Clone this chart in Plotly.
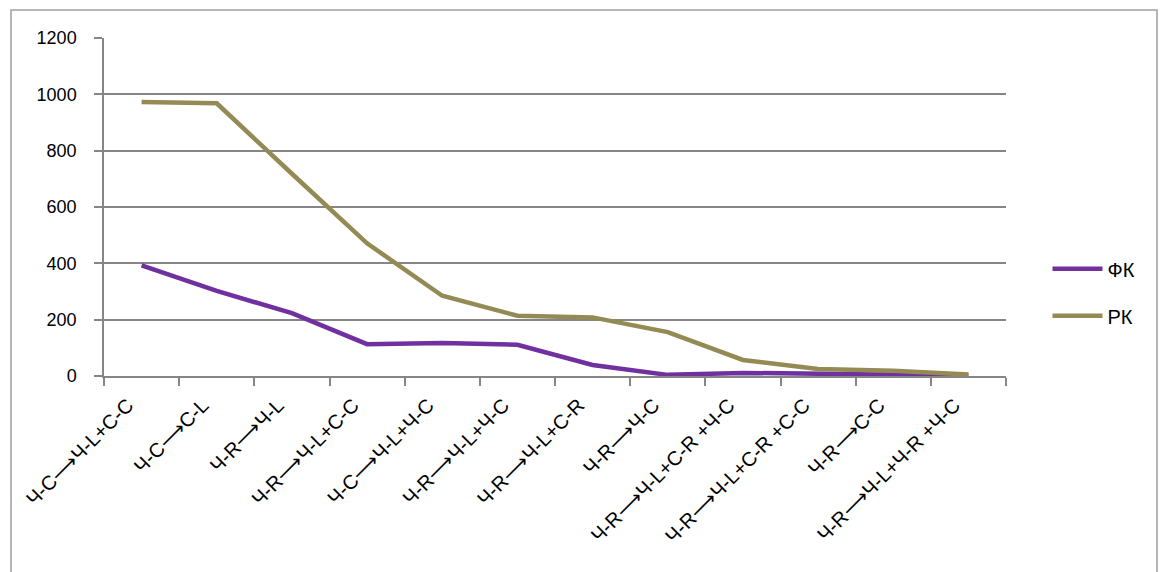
import plotly.graph_objects as go

categories = [
    "Ч-С⟶Ч-L+С-С",
    "Ч-С⟶С-L",
    "Ч-R⟶Ч-L",
    "Ч-R⟶Ч-L+С-С",
    "Ч-С⟶Ч-L+Ч-С",
    "Ч-R⟶Ч-L+Ч-С",
    "Ч-R⟶Ч-L+С-R",
    "Ч-R⟶Ч-С",
    "Ч-R⟶Ч-L+С-R +Ч-С",
    "Ч-R⟶Ч-L+С-R +С-С",
    "Ч-R⟶С-С",
    "Ч-R⟶Ч-L+Ч-R +Ч-С",
]
fk_values = [393, 302, 223, 113, 117, 111, 39, 4, 11, 7, 4, 2]
rk_values = [973, 968, 718, 471, 285, 214, 208, 156, 57, 25, 19, 5]

y_ticks = [0, 200, 400, 600, 800, 1000, 1200]

FONT = "Liberation Sans, Arial, sans-serif"
GRID = "#868686"

fig = go.Figure()
fig.add_trace(go.Scatter(
    x=categories, y=fk_values, name="ФК", mode="lines",
    line=dict(color="#7030A0", width=4.5), legendgroup="a",
))
fig.add_trace(go.Scatter(
    x=categories, y=rk_values, name="РК", mode="lines",
    line=dict(color="#948A54", width=4.5), legendgroup="b",
))

fig.update_layout(
    width=1160, height=572,
    margin=dict(l=104, r=154, t=38, b=196),
    paper_bgcolor="white", plot_bgcolor="white",
    font=dict(family=FONT, color="black", size=18),
    showlegend=True,
    legend=dict(
        x=1.046, y=0.375, xanchor="left", yanchor="top",
        font=dict(size=20, family=FONT), tracegroupgap=18,
        itemwidth=50, bgcolor="rgba(0,0,0,0)",
    ),
    xaxis=dict(
        type="category", tickangle=-45, tickson="boundaries",
        showgrid=False, showline=True, linecolor=GRID, linewidth=1.5,
        ticks="outside", ticklen=8, tickcolor=GRID, tickwidth=1.5,
        tickfont=dict(size=20, family=FONT), range=[-0.5, 11.5],
        ticklabelshift=-14, ticklabelstandoff=8, automargin=False,
    ),
    yaxis=dict(
        range=[0, 1200], tickvals=y_ticks, showgrid=True,
        gridcolor=GRID, gridwidth=1.5, zeroline=False,
        showline=True, linecolor=GRID, linewidth=1.5,
        ticks="outside", ticklen=8, tickcolor=GRID, tickwidth=1.5,
        tickfont=dict(size=18, family=FONT), ticklabelstandoff=14,
        automargin=False,
    ),
    shapes=[dict(
        type="rect", xref="paper", yref="paper",
        x0=(11 - 104) / 902, x1=(1157 - 104) / 902,
        y0=(376 - 580) / 338, y1=(376 - 10) / 338,
        line=dict(color="#A0A0A0", width=1.5), layer="below",
    )],
)

fig.write_html("out.html")
